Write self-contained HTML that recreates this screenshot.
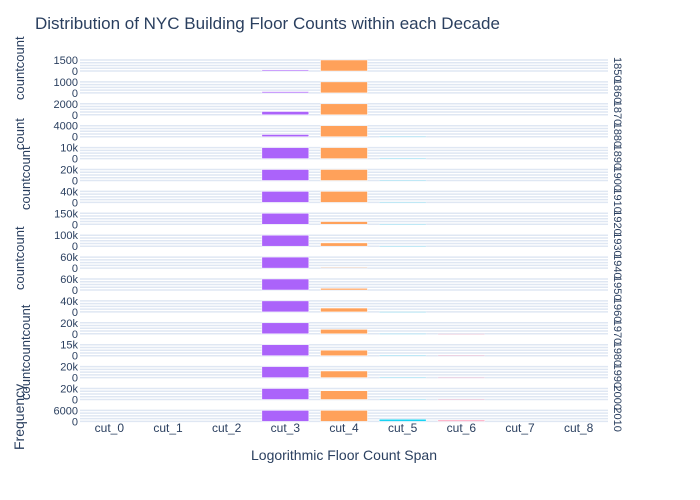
<!DOCTYPE html>
<html><head><meta charset="utf-8"><style>
body{margin:0;background:#fff;}
svg{display:block;font-family:"Liberation Sans",sans-serif;}
</style></head><body>
<svg id="chart" width="700" height="500">
<text x="35" y="29" font-size="17" fill="#2a3f5f">Distribution of NYC Building Floor Counts within each Decade</text>
<text x="344" y="460" font-size="14" fill="#2a3f5f" text-anchor="middle">Logorithmic Floor Count Span</text>
<text transform="translate(24,450) rotate(-90)" font-size="14" fill="#2a3f5f">Frequency</text>
<text transform="translate(24,150) rotate(-90)" font-size="13" fill="#2a3f5f">count</text>
<text transform="translate(24,100) rotate(-90)" font-size="13" fill="#2a3f5f">countcount</text>
<text transform="translate(30,210) rotate(-90)" font-size="13" fill="#2a3f5f">countcount</text>
<text transform="translate(24,290) rotate(-90)" font-size="13" fill="#2a3f5f">countcount</text>
<text transform="translate(30,400) rotate(-90)" font-size="13" fill="#2a3f5f">countcountcount</text>
<g id="plot"></g>
</svg>
<script>
const categories = ["cut_0","cut_1","cut_2","cut_3","cut_4","cut_5","cut_6","cut_7","cut_8"];
const decades = ["1850","1860","1870","1880","1890","1900","1910","1920","1930","1940","1950","1960","1970","1980","1990","2000","2010"];
const topTicks = ["1500","1000","2000","4000","10k","20k","40k","150k","100k","60k","60k","40k","20k","15k","20k","20k","6000"];
const cut3 = [0.1,0.12,0.3,0.2,1,1,1,1,1,1,1,1,1,1,1,1,1];
const cut4 = [1,1,1,1,1,1,1,0.25,0.3,0.08,0.15,0.35,0.4,0.5,0.6,0.8,1];
const cut5 = [0,0,0,0.03,0.03,0.03,0.03,0.03,0.03,0,0,0.03,0.03,0.06,0.04,0.06,0.2];
const cut6 = [0,0,0,0,0,0,0,0,0,0,0,0,0.02,0.06,0.02,0.02,0.1];
const series = [{cat:3,vals:cut3,color:"#ab63fa"},{cat:4,vals:cut4,color:"#FFA15A"},{cat:5,vals:cut5,color:"#19d3f3"},{cat:6,vals:cut6,color:"#FF6692"}];
const NS="http://www.w3.org/2000/svg";
const g=document.getElementById('plot');
const X0=80,X1=608,PT=60,STEP=21.9,PH=11;
const bw=(X1-X0)/categories.length;
function xCenter(i){return X0+bw*(i+0.5);}
function panelTop(p){return PT+p*STEP;}
function yPos(p,v){return panelTop(p)+PH*(1-v);}
function mk(tag,attrs){const e=document.createElementNS(NS,tag);for(const k in attrs)e.setAttribute(k,attrs[k]);return e;}
decades.forEach((d,p)=>{
  const t=panelTop(p);
  [0,0.25,0.5,0.75,1].forEach((f,j)=>{
    const l=mk('line',{x1:X0,x2:X1,y1:t+PH*f,y2:t+PH*f,stroke:"#DFE7F3","stroke-width":1.5});
    
    
    g.appendChild(l);
  });
  const tl=mk('text',{x:X0-2,y:t+4,"font-size":11,fill:"#2a3f5f","text-anchor":"end"});
  tl.textContent=topTicks[p];
  
  
  g.appendChild(tl);
  const z=mk('text',{x:X0-2,y:t+PH+4,"font-size":11,fill:"#2a3f5f","text-anchor":"end"});
  z.textContent="0";
  
  
  g.appendChild(z);
  const yr=mk('text',{transform:`translate(614,${t-3}) rotate(90)`,"font-size":11,fill:"#2a3f5f"});
  yr.textContent=d;
  
  
  g.appendChild(yr);
  series.forEach(s=>{
    const v=s.vals[p]; if(v<=0)return;
    const y=yPos(p,v);
    const r=mk('rect',{x:xCenter(s.cat)-bw*0.4,y:y,width:bw*0.8,height:Math.max(panelTop(p)+PH-y,1),fill:s.color,stroke:"#fff","stroke-width":0.5,opacity:v<0.1?0.4:1});
    
    
    g.appendChild(r);
  });
});
categories.forEach((c,i)=>{
  const t=mk('text',{x:xCenter(i),y:432,"font-size":12,fill:"#2a3f5f","text-anchor":"middle"});
  t.textContent=c;
  
  
  g.appendChild(t);
});
</script>
</body></html>
